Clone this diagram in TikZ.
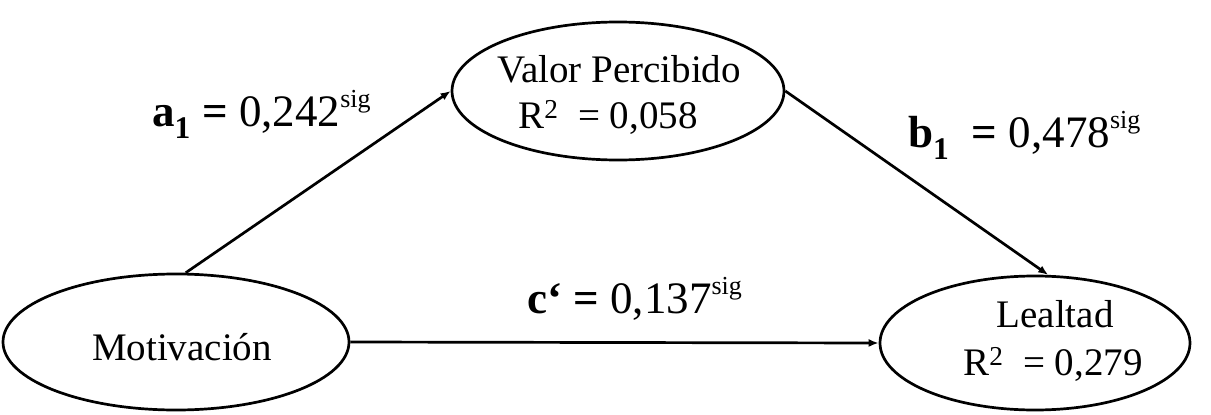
\documentclass[tikz,border=0pt]{standalone}
\usepackage{fontspec}
\setmainfont{Liberation Serif}
\usetikzlibrary{shapes.geometric,arrows.meta,calc}
\newcommand{\sigsup}{\raisebox{0.42em}{\fontsize{26}{30}\selectfont sig}}
\begin{document}
\begin{tikzpicture}[x=1pt,y=-1pt,
  latent/.style={draw,ellipse,line width=2.7pt,inner sep=0pt},
  txt/.style={anchor=base,inner sep=0pt,font=\fontsize{39}{44}\selectfont},
  lbl/.style={anchor=base west,inner sep=0pt,font=\fontsize{45}{50}\selectfont},
  arr/.style={line width=2.7pt,-{Latex[length=10pt,width=8pt]}}]
\useasboundingbox (0,0) rectangle (1211,415);
\node[latent,minimum width=332pt,minimum height=138pt] (val) at (618,91) {};
\node[latent,minimum width=346pt,minimum height=136pt] (mot) at (176,342) {};
\node[latent,minimum width=310pt,minimum height=134pt] (lea) at (1035,343) {};
\node[txt] (valt1) at (619,82) {Valor Percibido};
\node[txt] (valt2) at (608,128) {R\textsuperscript{2}\ \ = 0,058};
\node[txt] (mott) at (182,360) {Motivación};
\node[txt] (leat1) at (1055,327) {Lealtad};
\node[txt] (leat2) at (1053,375) {R\textsuperscript{2}\ \ = 0,279};
\draw[arr] (mot.82) -- (val.west);
\draw[arr] (val.east) -- (lea.79);
\draw[arr] (mot.east) -- (lea.west);
\node[lbl] (la) at (152,126) {\textbf{a\textsubscript{1} =} 0,242\sigsup};
\node[lbl] (lb) at (908,147) {\textbf{b\textsubscript{1}\ \ =} 0,478\sigsup};
\node[lbl] (lc) at (527,313) {\textbf{c‘ =} 0,137\sigsup};
\end{tikzpicture}
\end{document}
